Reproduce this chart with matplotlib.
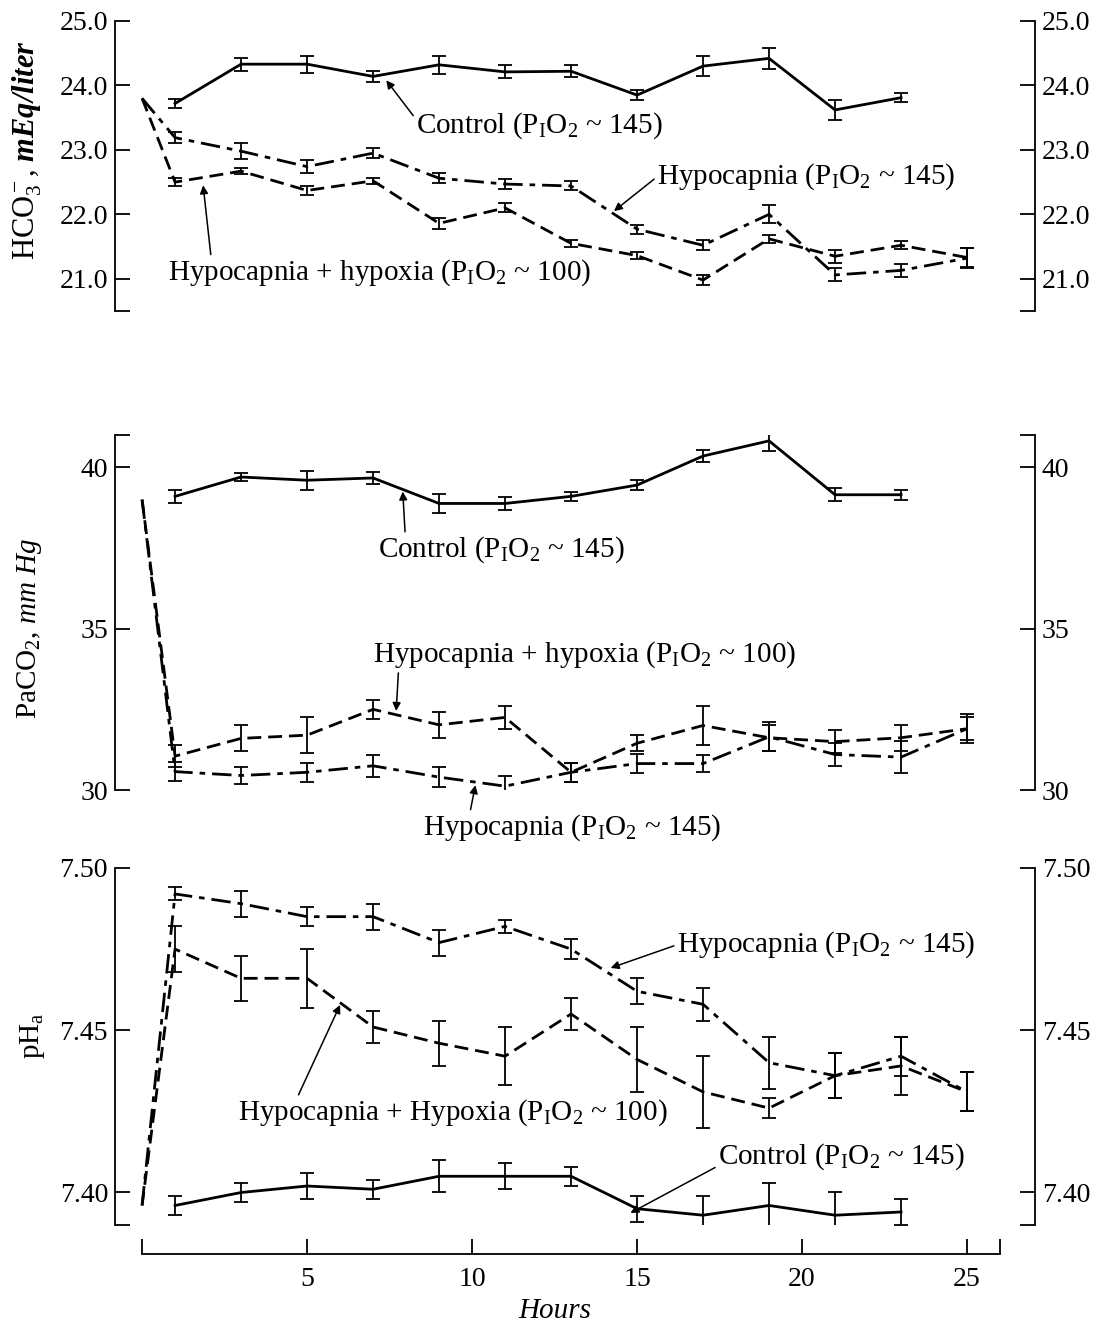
import matplotlib
matplotlib.use('Agg')
import matplotlib.pyplot as plt

plt.rcParams['font.family'] = ['Liberation Serif', 'DejaVu Serif']
plt.rcParams['mathtext.fontset'] = 'custom'
plt.rcParams['mathtext.rm'] = 'Liberation Serif'
plt.rcParams['mathtext.it'] = 'Liberation Serif:italic'
plt.rcParams['mathtext.bf'] = 'Liberation Serif:italic:bold'

# data
hours_ctrl = [1, 3, 5, 7, 9, 11, 13, 15, 17, 19, 21, 23]
hours_hypo = [1, 3, 5, 7, 9, 11, 13, 15, 17, 19, 21, 23, 25]
start_hour = 0

hco3_start = 23.8
hco3_ctrl = [23.72, 24.33, 24.33, 24.14, 24.32, 24.21, 24.22, 23.85, 24.30, 24.42, 23.62, 23.81]
hco3_ctrl_err = [0.07, 0.10, 0.13, 0.09, 0.14, 0.10, 0.09, 0.08, 0.16, 0.16, 0.15, 0.07]
hco3_hypo = [23.19, 22.98, 22.74, 22.95, 22.56, 22.47, 22.44, 21.77, 21.52, 22.00, 21.06, 21.13, 21.32]
hco3_hypo_err = [0.08, 0.12, 0.10, 0.08, 0.08, 0.08, 0.07, 0.07, 0.08, 0.14, 0.10, 0.10, 0.15]
hco3_hypox = [22.50, 22.67, 22.37, 22.52, 21.86, 22.10, 21.55, 21.36, 20.98, 21.62, 21.35, 21.52, 21.33]
hco3_hypox_err = [0.06, 0.05, 0.07, 0.05, 0.08, 0.07, 0.05, 0.05, 0.08, 0.06, 0.10, 0.06, 0.15]

paco2_start = 39.0
paco2_ctrl = [39.10, 39.70, 39.60, 39.67, 38.88, 38.88, 39.10, 39.45, 40.35, 40.82, 39.15, 39.15]
paco2_ctrl_err = [0.20, 0.12, 0.30, 0.20, 0.30, 0.20, 0.15, 0.15, 0.20, 0.30, 0.20, 0.15]
paco2_hypo = [30.57, 30.45, 30.55, 30.75, 30.40, 30.12, 30.55, 30.82, 30.82, 31.65, 31.10, 31.02, 31.90]
paco2_hypo_err = [0.30, 0.25, 0.30, 0.35, 0.30, 0.30, 0.30, 0.30, 0.25, 0.45, 0.35, 0.50, 0.35]
paco2_hypox = [31.05, 31.60, 31.70, 32.50, 32.02, 32.25, 30.55, 31.45, 32.00, 31.62, 31.50, 31.62, 31.90]
paco2_hypox_err = [0.35, 0.40, 0.55, 0.30, 0.40, 0.35, 0.30, 0.25, 0.60, 0.40, 0.35, 0.40, 0.45]

ph_start = 7.396
ph_ctrl = [7.396, 7.400, 7.402, 7.401, 7.405, 7.405, 7.405, 7.395, 7.393, 7.396, 7.393, 7.394]
ph_ctrl_err = [0.003, 0.003, 0.004, 0.003, 0.005, 0.004, 0.003, 0.004, 0.006, 0.007, 0.007, 0.004]
ph_hypo = [7.492, 7.489, 7.485, 7.485, 7.477, 7.482, 7.475, 7.462, 7.458, 7.440, 7.436, 7.442, 7.431]
ph_hypo_err = [0.002, 0.004, 0.003, 0.004, 0.004, 0.002, 0.003, 0.004, 0.005, 0.008, 0.007, 0.006, 0.006]
ph_hypox = [7.475, 7.466, 7.466, 7.451, 7.446, 7.442, 7.455, 7.441, 7.431, 7.426, 7.436, 7.439, 7.431]
ph_hypox_err = [0.007, 0.007, 0.009, 0.005, 0.007, 0.009, 0.005, 0.010, 0.011, 0.003, 0.007, 0.009, 0.006]

SOLID = '-'
DASHDOT = (0, (7, 2.5, 2, 2.5))
DASHED = (0, (5, 2.5))
FS = 21   # annotation / label size
TS = 20   # tick label size


def lab(name, p):
    return name + r' (P$_\mathrm{I}$O$_2$ ~ ' + p + ')'


def series(ax, x, y, err, ls, start=None):
    xs, ys = list(x), list(y)
    if start is not None:
        xs = [start_hour] + xs
        ys = [start] + ys
    ax.plot(xs, ys, color='black', lw=2.0, linestyle=ls)
    ax.errorbar(x, y, yerr=err, fmt='none', ecolor='black', elinewidth=1.3,
                capsize=5, capthick=1.3)


def style_axis(ax, lo, hi, ticks, labels):
    ax.set_xlim(-0.82, 27.06)
    ax.set_ylim(lo, hi)
    ax.set_yticks(ticks)
    ax.set_yticklabels(labels)
    ax.spines['top'].set_visible(False)
    ax.spines['bottom'].set_visible(False)
    ax.tick_params(axis='y', which='both', left=True, right=True, labelleft=True,
                   labelright=True, direction='in', length=11, width=1.3,
                   labelsize=TS, pad=5)
    ax.tick_params(axis='x', bottom=False, labelbottom=False)
    for s in ('left', 'right'):
        ax.spines[s].set_linewidth(1.3)


def note(ax, text, xy, xytext, rel=(0, 0.5)):
    ax.annotate(text, xy=xy, xytext=xytext, fontsize=FS, ha='left', va='center',
                arrowprops=dict(arrowstyle='-|>', color='black', lw=1.1,
                                mutation_scale=12, shrinkA=0, shrinkB=0,
                                relpos=rel),
                annotation_clip=False)


fig = plt.figure(figsize=(11.09, 13.28), dpi=100)
ax1 = fig.add_axes([0.1037, 0.7658, 0.8296, 0.2184])
ax2 = fig.add_axes([0.1037, 0.4051, 0.8296, 0.2673])
ax3 = fig.add_axes([0.1037, 0.0776, 0.8296, 0.2688])

# HCO3
series(ax1, hours_ctrl, hco3_ctrl, hco3_ctrl_err, SOLID)
series(ax1, hours_hypo, hco3_hypo, hco3_hypo_err, DASHDOT, hco3_start)
series(ax1, hours_hypo, hco3_hypox, hco3_hypox_err, DASHED, hco3_start)
style_axis(ax1, 20.5, 25.0, [20.5, 21, 22, 23, 24, 25],
           ['', '21.0', '22.0', '23.0', '24.0', '25.0'])
ax1.set_ylabel(r'HCO$_3^-$, $\mathbf{mEq/liter}$', fontsize=22)
ax1.yaxis.set_label_coords(-0.077, 0.555)
note(ax1, lab('Control', '145'), (7.4, 24.08), (8.3, 23.38), (0, 0.7))
note(ax1, lab('Hypocapnia', '145'), (14.3, 22.05), (15.6, 22.58))
note(ax1, lab('Hypocapnia + hypoxia', '100'), (1.85, 22.45), (0.8, 21.09), (0.1, 1.1))

# PaCO2
series(ax2, hours_ctrl, paco2_ctrl, paco2_ctrl_err, SOLID)
series(ax2, hours_hypo, paco2_hypo, paco2_hypo_err, DASHDOT, paco2_start)
series(ax2, hours_hypo, paco2_hypox, paco2_hypox_err, DASHED, paco2_start)
style_axis(ax2, 30, 41, [30, 35, 40, 41], ['30', '35', '40', ''])
ax2.set_ylabel(r'PaCO$_2$, $\mathit{mm\ Hg}$', fontsize=FS)
ax2.yaxis.set_label_coords(-0.077, 0.456)
note(ax2, lab('Control', '145'), (7.9, 39.25), (7.15, 37.44), (0.11, 1.05))
note(ax2, lab('Hypocapnia + hypoxia', '100'), (7.7, 32.45), (7.0, 34.19), (0.06, -0.05))
note(ax2, lab('Hypocapnia', '145'), (10.1, 30.15), (8.5, 28.83), (0.16, 1.05))

# pH
series(ax3, hours_ctrl, ph_ctrl, ph_ctrl_err, SOLID)
series(ax3, hours_hypo, ph_hypo, ph_hypo_err, DASHDOT, ph_start)
series(ax3, hours_hypo, ph_hypox, ph_hypox_err, DASHED, ph_start)
style_axis(ax3, 7.39, 7.50, [7.39, 7.40, 7.45, 7.50], ['', '7.40', '7.45', '7.50'])
ax3.set_ylabel(r'pH$_\mathrm{a}$', fontsize=FS)
ax3.yaxis.set_label_coords(-0.074, 0.53)
note(ax3, lab('Hypocapnia', '145'), (14.2, 7.4692), (16.2, 7.4763))
note(ax3, lab('Hypocapnia + Hypoxia', '100'), (6.0, 7.4578), (2.9, 7.4245), (0.14, 1.05))
note(ax3, lab('Control', '145'), (14.8, 7.3937), (17.45, 7.411), (0, 0.2))

ax3.spines['bottom'].set_visible(True)
ax3.spines['bottom'].set_bounds(0, 26)
ax3.spines['bottom'].set_position(('outward', 21))
ax3.spines['bottom'].set_linewidth(1.3)
ax3.set_xticks([0, 5, 10, 15, 20, 25, 26])
ax3.set_xticklabels(['', '5', '10', '15', '20', '25', ''])
ax3.tick_params(axis='x', bottom=True, labelbottom=True, direction='in', length=11,
                width=1.3, labelsize=TS, pad=9)
ax3.set_xlabel('Hours', fontsize=FS, style='italic')
ax3.xaxis.set_label_coords(0.478, -0.205)

fig.savefig('out.png', dpi=100)
